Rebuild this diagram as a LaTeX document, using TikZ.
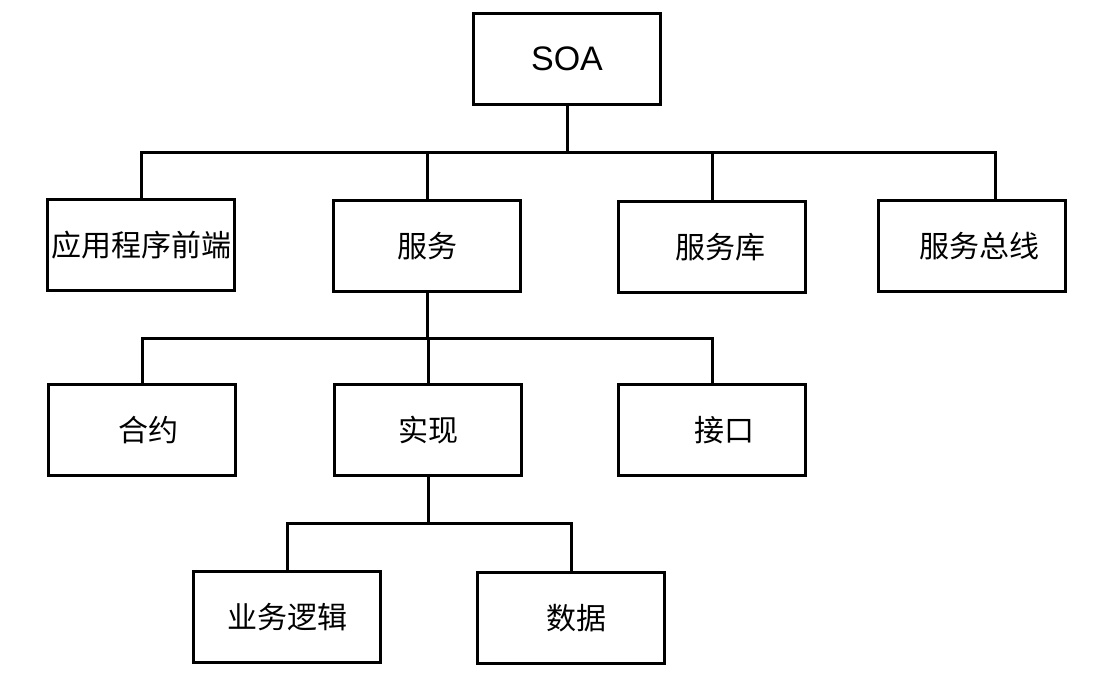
\documentclass[tikz,border=0pt]{standalone}
\usepackage{fontspec}
\setmainfont{Liberation Sans}
\newfontfamily\cjk{Noto Sans CJK SC}
\usetikzlibrary{calc}

\begin{document}
\begin{tikzpicture}[
  x=0.5pt, y=-0.5pt,
  box/.style={draw, line width=1.6pt, minimum width=93.5pt, minimum height=45.5pt,
              inner sep=0pt, font=\cjk\fontsize{15pt}{18pt}\selectfont},
  link/.style={line width=1.5pt}]
  \useasboundingbox (0,0) rectangle (1097,677);
  % top
  \node[box, font=\fontsize{17pt}{20pt}\selectfont] (soa) at (567,59) {SOA};
  % first row
  \node[box] (app) at (141,245) {应用程序前端};
  \node[box] (svc) at (427,246) {服务};
  \node[box] (lib) at (712,247) {\hspace*{8pt}服务库};
  \node[box] (bus) at (972,246) {\hspace*{7pt}服务总线};
  % second row, under 服务
  \node[box] (ctr)  at (142,430) {\hspace*{6pt}合约};
  \node[box] (impl) at (428,430) {实现};
  \node[box] (ifc)  at (712,430) {\hspace*{12pt}接口};
  % third row, under 实现
  \node[box] (logic) at (287,617) {业务逻辑};
  \node[box] (data)  at (571,618) {\hspace*{5pt}数据};

  \coordinate (j1) at ($(soa.south)!0.5!(svc.north)$);
  \coordinate (j2) at ($(svc.south)!0.5!(impl.north)$);
  \coordinate (j3) at ($(impl.south)!0.5!(logic.north)$);
  \coordinate (busin) at ([xshift=11.5pt]bus.north);

  \draw[link] (soa.south) -- (soa.south |- j1);
  \draw[link] (app.north) |- (j1 -| busin) -- (busin);
  \draw[link] (svc.north) -- (svc.north |- j1);
  \draw[link] (lib.north) -- (lib.north |- j1);

  \draw[link] (svc.south) -- (svc.south |- j2);
  \draw[link] (ctr.north) |- (j2 -| ifc.north) -- (ifc.north);
  \draw[link] (impl.north) -- (impl.north |- j2);

  \draw[link] (impl.south) -- (impl.south |- j3);
  \draw[link] (logic.north) |- (j3 -| data.north) -- (data.north);
\end{tikzpicture}
\end{document}
